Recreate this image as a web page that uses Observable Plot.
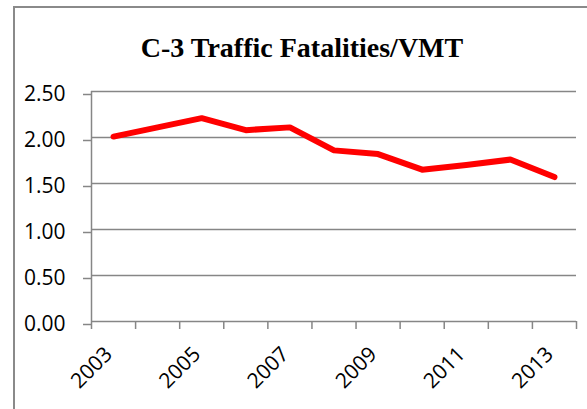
<!DOCTYPE html>
<html>
<head>
<meta charset="utf-8">
<script src="https://cdn.jsdelivr.net/npm/d3@7"></script>
<script src="https://cdn.jsdelivr.net/npm/@observablehq/plot@0.6"></script>
<style>
  html, body { margin: 0; padding: 0; background: #fff; }
  #wrap { position: relative; width: 587px; height: 409px; overflow: hidden; background: #fff; }
  #border { position: absolute; left: 13px; top: 6px; width: 700px; height: 500px; border: 2px solid #8a8a8a; box-sizing: border-box; }
  #chart { position: absolute; left: 0; top: 0; }
</style>
</head>
<body>
<div id="wrap"><div id="border"></div><div id="chart"></div></div>
<script>
const title = "C-3 Traffic Fatalities/VMT";
const years = [2003, 2004, 2005, 2006, 2007, 2008, 2009, 2010, 2011, 2012, 2013];
const values = [2.01, 2.11, 2.21, 2.08, 2.11, 1.86, 1.82, 1.65, 1.70, 1.76, 1.57];
const labelYears = [2003, 2005, 2007, 2009, 2011, 2013];
const yTicks = [0, 0.5, 1.0, 1.5, 2.0, 2.5];

const data = years.map((y, i) => ({year: y, value: values[i]}));
const boundaries = years.map(y => y - 0.5).concat([years[years.length - 1] + 0.5]);
const grey = "#868686";

const chart = Plot.plot({
  width: 587,
  height: 409,
  marginTop: 91,
  marginBottom: 88,
  marginLeft: 91,
  marginRight: 11,
  style: {fontFamily: "'Open Sans', sans-serif", background: "transparent", overflow: "visible"},
  x: {domain: [boundaries[0], boundaries[boundaries.length - 1]], axis: null},
  y: {domain: [0, 2.5], axis: null},
  marks: [
    Plot.ruleY(yTicks, {stroke: grey, strokeWidth: 1.5}),
    Plot.ruleX([boundaries[0]], {stroke: grey, strokeWidth: 1.5}),
    Plot.axisY({
      ticks: yTicks, tickSize: 8, tickPadding: 18, tickFormat: d3.format(".2f"),
      fontSize: 21, fill: "black", stroke: grey, strokeWidth: 1.5, dy: 3, label: null
    }),
    Plot.axisX({
      ticks: boundaries, tickSize: 8, tickFormat: () => "",
      stroke: grey, strokeWidth: 1.5, label: null
    }),
    Plot.text(labelYears, {
      x: d => d, text: d => String(d), frameAnchor: "bottom",
      rotate: -45, textAnchor: "end", dx: 0, dy: 34, fontSize: 21, fill: "black"
    }),
    Plot.line(data, {
      x: "year", y: "value", stroke: "#ff0000", strokeWidth: 6,
      strokeLinejoin: "round", strokeLinecap: "round"
    }),
    Plot.text([title], {
      frameAnchor: "top", dx: -32, dy: -54, text: d => d,
      fontFamily: "'Liberation Serif', 'Times New Roman', serif",
      fontWeight: "bold", fontSize: 28, fill: "black"
    })
  ]
});
document.getElementById("chart").appendChild(chart);
</script>
</body>
</html>
